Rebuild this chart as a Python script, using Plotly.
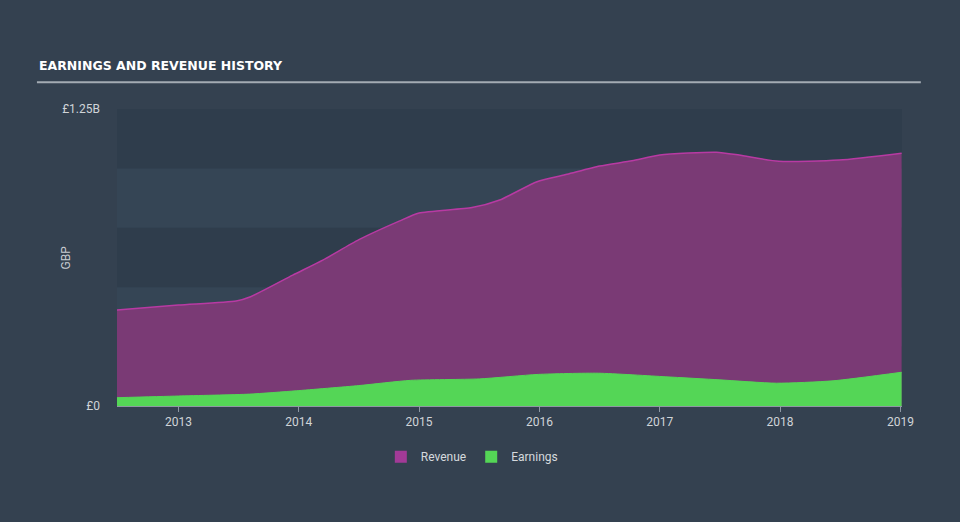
import plotly.graph_objects as go

# Data (GBP billions)
rev_x = [2012.49, 2013.0, 2013.48, 2013.6, 2013.95, 2014.2, 2014.5, 2014.84, 2015.0, 2015.44,
         2015.67, 2015.98, 2016.23, 2016.5, 2016.77, 2017.0, 2017.47, 2017.66, 2017.99, 2018.49, 2019.01]
rev_y = [0.404, 0.425, 0.442, 0.460, 0.551, 0.614, 0.700, 0.779, 0.812, 0.835,
         0.867, 0.944, 0.975, 1.010, 1.032, 1.056, 1.068, 1.056, 1.030, 1.035, 1.064]
earn_x = [2012.49, 2013.0, 2013.59, 2013.98, 2014.5, 2014.93, 2015.5, 2015.99, 2016.49,
          2017.05, 2017.5, 2017.97, 2018.44, 2019.01]
earn_y = [0.035, 0.042, 0.050, 0.064, 0.086, 0.108, 0.114, 0.133, 0.138,
          0.123, 0.110, 0.096, 0.106, 0.142]
year_ticks = [2013, 2014, 2015, 2016, 2017, 2018, 2019]
y_tickvals = [0, 1.25e9]
y_ticktext = ["£0", "£1.25B"]
band_ranges = [(0, 0.25e9), (0.5e9, 0.75e9), (1.0e9, 1.25e9)]

BG = "#344150"
REV_FILL = "#7a3a75"
EARN_FILL = "#54d656"
fig = go.Figure()
fig.add_trace(go.Scatter(
    x=rev_x, y=[v * 1e9 for v in rev_y], name="Revenue", mode="lines", showlegend=False,
    line=dict(color="#b83aa3", width=1.5, shape="spline", smoothing=0.6),
    fill="tozeroy", fillcolor=REV_FILL))
fig.add_trace(go.Scatter(
    x=earn_x, y=[v * 1e9 for v in earn_y], name="Earnings", mode="lines", showlegend=False,
    line=dict(color=EARN_FILL, width=1, shape="spline", smoothing=0.6),
    fill="tozeroy", fillcolor=EARN_FILL))
# legend entries with square swatches
for name, col in [("Revenue", "#a23a97"), ("Earnings", EARN_FILL)]:
    fig.add_trace(go.Scatter(x=[None], y=[None], name=name, mode="markers",
                             marker=dict(symbol="square", size=14, color=col)))

shapes = []
for lo, hi in band_ranges:
    shapes.append(dict(type="rect", xref="paper", yref="y", x0=0, x1=1, y0=lo, y1=hi,
                       fillcolor="#2f3d4c", line=dict(width=0), layer="below"))
shapes.append(dict(type="line", xref="paper", yref="paper", x0=-0.102, x1=1.024, y0=1.09, y1=1.09,
                   line=dict(color="#a3abb3", width=2)))

fig.update_layout(
    width=960, height=522,
    paper_bgcolor=BG, plot_bgcolor="#354555",
    margin=dict(l=117, r=58, t=109, b=116),
    shapes=shapes,
    showlegend=True,
    legend=dict(orientation="h", x=0.452, xanchor="center", y=-0.122, yanchor="top",
                font=dict(color="#d5d9dd", size=12, family="Roboto"),
                itemsizing="constant", bgcolor="rgba(0,0,0,0)"),
    xaxis=dict(range=[2012.49, 2019.013], tickvals=year_ticks, ticktext=[str(y) for y in year_ticks],
               showgrid=False, zeroline=False, ticks="outside", ticklen=5, tickcolor="#8e98a3",
               showline=True, linecolor="#8e98a3", linewidth=1,
               tickfont=dict(color="#d0d4d8", size=12, family="Roboto")),
    yaxis=dict(range=[0, 1.25e9], tickvals=y_tickvals, ticktext=y_ticktext,
               showgrid=False, zeroline=False, ticks="", ticklabelstandoff=16,
               tickfont=dict(color="#d0d4d8", size=12, family="Roboto")),
    annotations=[
        dict(text="<b>EARNINGS AND REVENUE HISTORY</b>", xref="paper", yref="paper",
             x=-0.102, y=1.115, xanchor="left", yanchor="bottom", showarrow=False,
             font=dict(color="#ffffff", size=12.5, family="DejaVu Sans")),
        dict(text="GBP", xref="paper", yref="paper", x=-0.065, y=0.5, xanchor="center", yanchor="middle",
             textangle=-90, showarrow=False, font=dict(color="#c8ccd0", size=12, family="Roboto")),
    ],
)
fig.write_html("out.html")
